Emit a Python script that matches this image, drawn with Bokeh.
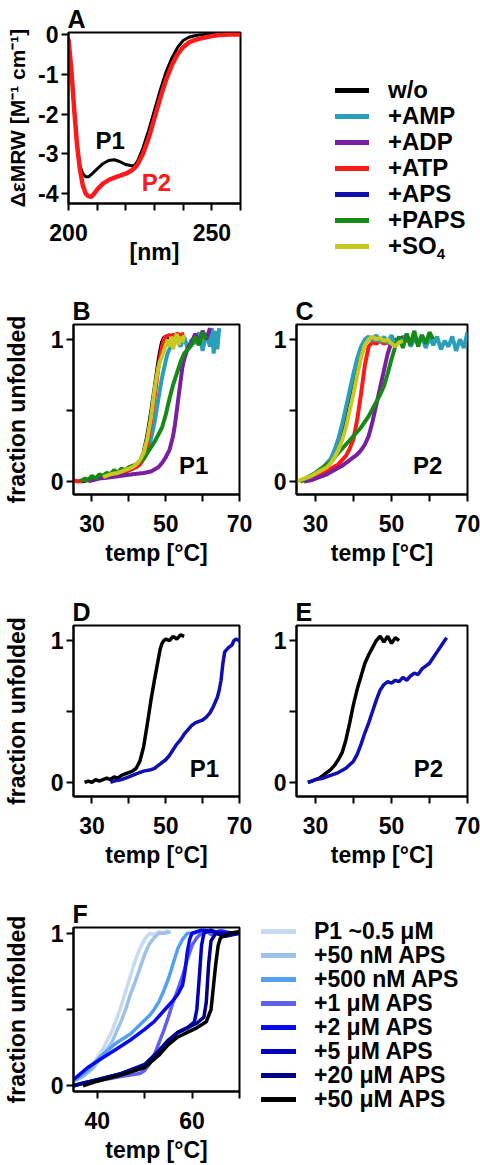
from bokeh.plotting import figure
from bokeh.layouts import column, row
from bokeh.models import Range1d, FixedTicker, Div
from bokeh.embed import file_html
from bokeh.resources import INLINE
from bokeh.core.properties import value

FONT = "Liberation Sans"

# ---------------- Panel A: CD spectra ----------------
A_nm = [200, 201, 202, 203, 204, 205, 206, 207, 208, 209, 210, 212, 214, 216, 218, 220, 222, 223, 224, 226, 228, 230, 232, 234, 236, 238, 240, 242, 244, 246, 248, 250, 253, 256, 260]
A_wo = [-0.1, -0.9, -1.9, -2.75, -3.3, -3.5, -3.58, -3.58, -3.52, -3.45, -3.38, -3.25, -3.17, -3.15, -3.2, -3.27, -3.3, -3.3, -3.2, -2.85, -2.4, -1.9, -1.4, -0.95, -0.6, -0.33, -0.15, -0.07, -0.03, -0.01, 0.0, 0.0, 0.0, 0.0, 0.0]
A_atp = [-0.12, -0.9, -1.9, -2.8, -3.4, -3.8, -4.0, -4.07, -4.08, -4.0, -3.9, -3.75, -3.66, -3.6, -3.55, -3.5, -3.42, -3.36, -3.28, -3.0, -2.6, -2.1, -1.6, -1.15, -0.78, -0.5, -0.32, -0.2, -0.14, -0.1, -0.07, -0.04, -0.01, 0.0, 0.0]
A_yticks = [-4, -3, -2, -1, 0]

# ---------------- Panel B: P1 melting ----------------
B_wo_T = [27, 29, 31, 33, 35, 37, 39, 41, 42, 43, 44, 45, 46, 46.5, 47, 47.5, 48, 48.5, 49, 49.5, 50, 51, 52, 53, 54]
B_wo_f = [0.0, 0.01, 0.02, 0.03, 0.04, 0.05, 0.07, 0.09, 0.11, 0.14, 0.2, 0.32, 0.48, 0.57, 0.66, 0.75, 0.84, 0.92, 0.98, 1.01, 1.02, 1.01, 1.03, 1.02, 1.03]
B_amp_T = [30, 35, 40, 43, 45, 46, 47, 47.5, 48, 48.5, 49, 49.5, 50, 50.5, 51, 52, 53, 54, 55, 56, 57, 58, 59, 60, 61, 62, 62.5, 63, 63.5, 64, 64.5]
B_amp_f = [0.02, 0.04, 0.08, 0.12, 0.2, 0.3, 0.42, 0.5, 0.58, 0.66, 0.73, 0.79, 0.85, 0.9, 0.93, 0.97, 1.0, 0.95, 1.02, 0.93, 1.0, 0.97, 1.05, 0.92, 1.04, 0.95, 1.08, 0.9, 1.06, 0.93, 1.08]
B_adp_T = [29, 32, 35, 38, 41, 44, 46, 48, 49, 50, 51, 52, 52.5, 53, 53.5, 54, 54.5, 55, 55.5, 56, 57, 58, 59, 60, 61, 62]
B_adp_f = [0.0, 0.02, 0.03, 0.04, 0.05, 0.06, 0.07, 0.1, 0.13, 0.17, 0.22, 0.32, 0.4, 0.5, 0.6, 0.7, 0.8, 0.86, 0.9, 0.94, 0.98, 1.04, 0.97, 1.06, 1.0, 1.08]
B_atp_T = [25, 26, 28, 30, 32, 34, 36, 38, 40, 42, 43, 44, 45, 46, 46.5, 47, 47.5, 48, 48.5, 49, 49.5, 50, 51, 52, 53, 54, 55]
B_atp_f = [0.01, 0.0, 0.01, 0.02, 0.03, 0.03, 0.05, 0.06, 0.08, 0.1, 0.12, 0.16, 0.26, 0.42, 0.51, 0.6, 0.7, 0.8, 0.88, 0.95, 1.0, 1.02, 1.03, 1.02, 1.04, 1.03, 1.04]
B_paps_T = [27, 28, 29, 30, 31, 32, 33, 34, 35, 36, 37, 38, 39, 40, 41, 42, 43, 44, 45, 46, 47, 48, 49, 50, 51, 52, 53, 54, 55, 56, 57, 58, 59, 60, 61]
B_paps_f = [0.0, 0.02, 0.01, 0.04, 0.02, 0.05, 0.04, 0.06, 0.05, 0.08, 0.06, 0.09, 0.08, 0.1, 0.11, 0.12, 0.14, 0.16, 0.2, 0.24, 0.28, 0.33, 0.38, 0.47, 0.58, 0.68, 0.76, 0.84, 0.9, 0.93, 0.96, 1.02, 0.96, 1.05, 1.0]
B_so4_T = [33, 35, 37, 39, 41, 42, 43, 44, 45, 46, 46.5, 47, 47.5, 48, 48.5, 49, 49.5, 50, 50.5, 51, 51.5, 52, 52.5, 53, 53.5, 54, 54.5, 55]
B_so4_f = [0.03, 0.05, 0.06, 0.08, 0.1, 0.12, 0.15, 0.2, 0.3, 0.45, 0.55, 0.65, 0.73, 0.8, 0.85, 0.88, 0.92, 0.96, 1.0, 0.95, 1.02, 0.93, 1.0, 1.04, 0.96, 1.02, 0.98, 1.03]

# ---------------- Panel C: P2 melting ----------------
C_wo_T = [27, 29, 31, 33, 35, 36, 37, 38, 39, 40, 41, 42, 43, 44, 45, 46, 47, 48, 49, 50]
C_wo_f = [0.0, 0.03, 0.06, 0.1, 0.17, 0.25, 0.35, 0.46, 0.58, 0.7, 0.82, 0.92, 0.98, 1.01, 1.0, 1.02, 0.99, 1.01, 0.98, 1.0]
C_amp_T = [26, 28, 30, 32, 34, 35, 36, 37, 38, 39, 40, 41, 42, 43, 44, 45, 46, 47, 48, 49, 50, 51, 52, 53, 54, 55, 56, 57, 58, 59, 60, 61, 62, 63, 64, 65, 66, 67, 68, 69, 70]
C_amp_f = [0.0, 0.03, 0.06, 0.1, 0.16, 0.22, 0.3, 0.4, 0.52, 0.64, 0.76, 0.87, 0.95, 1.0, 1.02, 0.99, 1.03, 0.98, 1.02, 0.97, 1.03, 0.96, 1.01, 0.98, 1.04, 0.95, 1.0, 0.97, 1.03, 0.94, 1.01, 0.96, 1.02, 0.93, 0.99, 0.95, 1.02, 0.92, 1.0, 0.94, 1.05]
C_adp_T = [27, 29, 31, 33, 35, 37, 39, 41, 42, 43, 44, 45, 46, 47, 48, 49, 50, 51, 52, 53, 54, 55]
C_adp_f = [0.0, 0.01, 0.03, 0.05, 0.08, 0.11, 0.15, 0.19, 0.22, 0.26, 0.32, 0.42, 0.54, 0.66, 0.78, 0.9, 0.98, 1.0, 0.98, 1.02, 0.99, 1.01]
C_atp_T = [26, 28, 30, 32, 34, 36, 38, 39, 40, 41, 42, 43, 44, 45, 46, 47, 48, 49, 50, 51]
C_atp_f = [0.0, 0.02, 0.04, 0.06, 0.09, 0.12, 0.18, 0.23, 0.3, 0.44, 0.62, 0.82, 0.95, 0.98, 0.97, 0.99, 0.97, 0.98, 0.96, 0.98]
C_paps_T = [26, 28, 30, 32, 34, 36, 38, 40, 42, 44, 46, 47, 48, 49, 50, 51, 52, 53, 54, 55, 56, 57, 58, 59, 60, 61]
C_paps_f = [0.0, 0.03, 0.06, 0.1, 0.14, 0.2, 0.26, 0.32, 0.38, 0.46, 0.56, 0.61, 0.67, 0.76, 0.86, 0.95, 1.02, 0.94, 1.04, 0.96, 1.06, 0.95, 1.03, 0.97, 1.05, 1.0]
C_so4_T = [25, 27, 29, 31, 33, 34, 35, 36, 37, 38, 39, 40, 41, 42, 43, 44, 45, 46, 47, 48, 49, 50, 51, 52, 53]
C_so4_f = [0.0, 0.02, 0.04, 0.07, 0.1, 0.13, 0.17, 0.22, 0.29, 0.38, 0.5, 0.62, 0.75, 0.87, 0.96, 1.0, 1.02, 1.0, 1.01, 0.99, 1.0, 0.97, 0.95, 0.98, 0.99]

# ---------------- Panels D/E: w/o vs +APS ----------------
D_wo_T = [28, 29, 30, 31, 32, 33, 34, 35, 36, 37, 38, 39, 40, 41, 42, 43, 44, 45, 46, 47, 48, 48.5, 49, 49.5, 50, 51, 52, 53, 54, 55]
D_wo_f = [0.0, 0.01, 0.0, 0.02, 0.01, 0.02, 0.03, 0.02, 0.04, 0.03, 0.05, 0.06, 0.07, 0.08, 0.1, 0.15, 0.25, 0.41, 0.58, 0.73, 0.87, 0.94, 0.98, 1.0, 1.01, 1.0, 1.03, 1.01, 1.04, 1.03]
D_aps_T = [35, 36, 38, 40, 42, 44, 46, 47, 48, 50, 51, 52, 53, 54, 55, 56, 57, 58, 59, 60, 61, 62, 63, 64, 64.5, 65, 65.5, 66, 67, 68, 68.5, 69, 70]
D_aps_f = [0.0, 0.01, 0.02, 0.04, 0.06, 0.08, 0.09, 0.1, 0.12, 0.16, 0.19, 0.23, 0.27, 0.3, 0.34, 0.37, 0.4, 0.42, 0.43, 0.44, 0.46, 0.49, 0.54, 0.6, 0.65, 0.72, 0.84, 0.92, 0.95, 0.97, 1.0, 1.01, 1.0]
E_wo_T = [28, 29, 30, 31, 32, 33, 34, 35, 36, 37, 38, 39, 40, 41, 42, 43, 44, 45, 46, 47, 48, 49, 50, 51, 52]
E_wo_f = [0.0, 0.01, 0.02, 0.03, 0.05, 0.07, 0.09, 0.12, 0.16, 0.21, 0.3, 0.42, 0.55, 0.66, 0.75, 0.84, 0.9, 0.95, 1.0, 1.03, 0.99, 1.03, 0.98, 1.02, 1.0]
E_aps_T = [28, 29, 30, 32, 34, 36, 38, 40, 41, 42, 43, 44, 45, 46, 47, 48, 49, 50, 51, 52, 53, 54, 55, 56, 57, 58, 59, 60, 61, 62, 63, 64, 64.5]
E_aps_f = [0.0, 0.01, 0.02, 0.03, 0.05, 0.07, 0.1, 0.15, 0.2, 0.27, 0.35, 0.42, 0.5, 0.58, 0.65, 0.69, 0.71, 0.7, 0.72, 0.71, 0.74, 0.72, 0.75, 0.77, 0.76, 0.8, 0.82, 0.84, 0.88, 0.92, 0.96, 1.0, 1.02]

# ---------------- Panel F: APS titration ----------------
F_p1_T = [35, 37, 39, 41, 43, 44, 45, 46, 47, 48, 49, 50, 51, 52, 53, 54, 55]
F_p1_f = [0.04, 0.08, 0.14, 0.23, 0.35, 0.43, 0.52, 0.62, 0.72, 0.82, 0.9, 0.96, 1.0, 0.99, 1.01, 1.0, 1.02]
F_50n_T = [35, 37, 39, 41, 43, 44, 45, 46, 47, 48, 49, 50, 51, 52, 53, 54, 55.5]
F_50n_f = [0.03, 0.06, 0.11, 0.19, 0.28, 0.35, 0.42, 0.5, 0.6, 0.68, 0.77, 0.86, 0.93, 0.97, 1.0, 1.0, 1.01]
F_500n_T = [35, 38, 41, 44, 47, 49, 51, 52, 53, 54, 55, 56, 57, 58, 59, 60, 62, 63]
F_500n_f = [0.03, 0.1, 0.2, 0.28, 0.34, 0.4, 0.46, 0.5, 0.55, 0.62, 0.7, 0.8, 0.9, 0.96, 1.0, 1.0, 1.01, 1.0]
F_1u_T = [35, 37, 39, 41, 43, 45, 47, 49, 50, 51, 52, 53, 54, 55, 56, 57, 58, 59, 60, 61, 62, 63, 64, 66, 68, 70]
F_1u_f = [0.0, 0.02, 0.03, 0.04, 0.05, 0.06, 0.07, 0.08, 0.1, 0.14, 0.2, 0.28, 0.36, 0.45, 0.55, 0.63, 0.72, 0.83, 0.92, 0.97, 1.0, 1.02, 0.99, 1.02, 1.0, 1.01]
F_2u_T = [35, 38, 41, 44, 47, 50, 52, 54, 56, 57, 58, 58.5, 59, 59.5, 60, 62, 65, 70]
F_2u_f = [0.04, 0.12, 0.18, 0.24, 0.3, 0.37, 0.42, 0.49, 0.56, 0.6, 0.66, 0.75, 0.88, 0.96, 1.0, 1.02, 1.01, 1.0]
F_5u_T = [35, 40, 45, 50, 53, 55, 57, 59, 60.5, 61, 61.5, 62, 62.5, 64, 66, 70]
F_5u_f = [0.0, 0.04, 0.08, 0.13, 0.22, 0.29, 0.35, 0.38, 0.42, 0.5, 0.7, 0.92, 1.0, 1.02, 0.99, 1.0]
F_20u_T = [35, 40, 45, 50, 53, 55, 57, 59, 61, 62.5, 63, 63.5, 64, 65, 67, 70]
F_20u_f = [0.0, 0.04, 0.08, 0.14, 0.23, 0.3, 0.35, 0.38, 0.41, 0.45, 0.55, 0.8, 0.95, 1.0, 0.98, 1.0]
F_50u_T = [37, 40, 45, 50, 53, 55, 57, 59, 61, 63, 64, 64.5, 65, 65.5, 66, 68, 70]
F_50u_f = [0.0, 0.03, 0.07, 0.12, 0.2, 0.27, 0.32, 0.35, 0.38, 0.42, 0.5, 0.65, 0.8, 0.92, 0.97, 1.0, 1.01]

# ---------------- legends ----------------
LIG_LABELS = ["w/o", "+AMP", "+ADP", "+ATP", "+APS", "+PAPS",
              '+SO<span style="font-size:15px;position:relative;top:5px;line-height:0;">4</span>']
LIG_COLORS = ["#000000", "#2a9fba", "#7a1fa0", "#ff1a1a", "#1010b0", "#158a15", "#c8c820"]
F_LABELS = ["P1 ~0.5 \u03bcM", "+50 nM APS", "+500 nM APS", "+1 \u03bcM APS", "+2 \u03bcM APS", "+5 \u03bcM APS", "+20 \u03bcM APS", "+50 \u03bcM APS"]
F_COLORS = ["#c6daf2", "#9cc2ea", "#55a0ee", "#6060ee", "#0808ee", "#0000c0", "#00008a", "#000000"]


def style_axis(ax):
    ax.axis_line_width = 2
    ax.axis_line_color = "black"
    ax.major_tick_line_width = 2
    ax.minor_tick_line_width = 2
    ax.major_tick_in = 0
    ax.major_tick_out = 7
    ax.minor_tick_in = 0
    ax.minor_tick_out = 7
    ax.major_label_text_font = FONT
    ax.major_label_text_font_style = "bold"
    ax.major_label_text_font_size = "23px"
    ax.major_label_text_color = "black"
    ax.axis_label_text_font = FONT
    ax.axis_label_text_font_style = "bold"
    ax.axis_label_text_font_size = "23px"
    ax.axis_label_text_color = "black"


def make_fig(width, height, xr, yr, mbl, mbr, mbt, mbb, letter):
    p = figure(width=width, height=height, x_range=Range1d(*xr), y_range=Range1d(*yr),
               output_backend="svg", toolbar_location=None,
               min_border_left=mbl, min_border_right=mbr, min_border_top=mbt, min_border_bottom=mbb)
    p.xgrid.visible = False
    p.ygrid.visible = False
    p.outline_line_color = "black"
    p.outline_line_width = 2
    p.outline_line_alpha = 1
    p.background_fill_color = "white"
    p.border_fill_color = "white"
    style_axis(p.xaxis[0])
    style_axis(p.yaxis[0])
    p.xaxis[0].major_label_standoff = 13
    p.yaxis[0].major_label_standoff = 3
    p.title.text = letter
    p.title.align = "left"
    p.title.text_font = FONT
    p.title.text_font_style = "bold"
    p.title.text_font_size = "25px"
    p.title.text_color = "black"
    p.title.standoff = 0
    p.title.offset = -1
    return p


def tag(p, x, y, txt, color="black"):
    p.text(x=[x], y=[y], text=[txt], text_font=value(FONT), text_font_style="bold",
           text_font_size="24px", text_align="center", text_baseline="middle", text_color=color)


def melt_axes(p, left=True):
    p.xaxis[0].ticker = FixedTicker(ticks=[30, 50, 70], minor_ticks=[40, 60])
    p.yaxis[0].ticker = FixedTicker(ticks=[0, 1], minor_ticks=[0.5])
    p.xaxis[0].axis_label = "temp [\u00b0C]"
    if left:
        p.yaxis[0].axis_label = "fraction unfolded"
        p.yaxis[0].axis_label_standoff = 18


def legend_div(labels, colors, width, height, pad_left, pad_top, glyph_w, gap, row_h, font_px):
    rows = []
    for lab, col in zip(labels, colors):
        rows.append(
            '<div style="display:flex;align-items:center;height:%dpx;white-space:nowrap;">'
            '<span style="display:inline-block;flex:none;width:%dpx;height:5px;background:%s;margin-right:%dpx;"></span>'
            '<span style="line-height:%dpx;">%s</span></div>' % (row_h, glyph_w, col, gap, row_h, lab))
    html = ('<div style="box-sizing:border-box;margin:0;padding:%dpx 0 0 %dpx;'
            'font-family:\'Liberation Sans\',Arial,sans-serif;font-weight:bold;font-size:%dpx;color:#000;">%s</div>'
            % (pad_top, pad_left, font_px, "".join(rows)))
    return Div(text=html, width=width, height=height, margin=0,
               styles={"margin": "0", "padding": "0", "overflow": "visible"})


# ---- Row 1: A + legend
pA = make_fig(268, 290, (200, 260), (-4.25, 0.05), 68, 28, 32, 87, "A")
pA.xaxis[0].ticker = FixedTicker(ticks=[200, 250], minor_ticks=[210, 220, 230, 240, 260])
pA.yaxis[0].ticker = FixedTicker(ticks=A_yticks)
pA.yaxis[0].major_label_overrides = {t: str(t) for t in A_yticks}
pA.xaxis[0].axis_label = "[nm]"
pA.xaxis[0].axis_label_standoff = -5
pA.yaxis[0].axis_label = "\u0394\u03b5MRW [M\u207b\u00b9 cm\u207b\u00b9]"
pA.yaxis[0].axis_label_text_font_size = "21px"
pA.yaxis[0].axis_label_standoff = 6
pA.line(A_nm, A_wo, line_color=LIG_COLORS[0], line_width=3)
pA.line(A_nm, A_atp, line_color=LIG_COLORS[3], line_width=4.5)
tag(pA, 214.5, -2.67, "P1")
tag(pA, 230.7, -3.72, "P2", color="#ff1a1a")

dA = legend_div(LIG_LABELS, LIG_COLORS, 212, 266, 67, 77, 34, 19, 26, 24)

# ---- Row 2: B, C
pB = make_fig(268, 300, (25, 70), (-0.092, 1.105), 68, 29, 34, 96, "B")
melt_axes(pB)
B_series = [(B_amp_T, B_amp_f, 1), (B_wo_T, B_wo_f, 0), (B_atp_T, B_atp_f, 3), (B_adp_T, B_adp_f, 2),
            (B_paps_T, B_paps_f, 5), (B_so4_T, B_so4_f, 6)]
for t, f, ci in B_series:
    pB.line(t, f, line_color=LIG_COLORS[ci], line_width=4)
tag(pB, 57.6, 0.11, "P1")

pC = make_fig(212, 300, (25, 70), (-0.092, 1.105), 28, 13, 34, 96, "C")
melt_axes(pC, left=False)
C_series = [(C_wo_T, C_wo_f, 0), (C_atp_T, C_atp_f, 3), (C_adp_T, C_adp_f, 2), (C_amp_T, C_amp_f, 1),
            (C_paps_T, C_paps_f, 5), (C_so4_T, C_so4_f, 6)]
for t, f, ci in C_series:
    pC.line(t, f, line_color=LIG_COLORS[ci], line_width=4)
tag(pC, 59.5, 0.11, "P2")

# ---- Row 3: D, E
pD = make_fig(268, 305, (25, 70), (-0.099, 1.106), 68, 29, 35, 99, "D")
melt_axes(pD)
pD.line(D_wo_T, D_wo_f, line_color=LIG_COLORS[0], line_width=3.5)
pD.line(D_aps_T, D_aps_f, line_color=LIG_COLORS[4], line_width=3.5)
tag(pD, 60.5, 0.1, "P1")

pE = make_fig(212, 305, (25, 70), (-0.099, 1.106), 28, 13, 35, 99, "E")
melt_axes(pE, left=False)
pE.line(E_wo_T, E_wo_f, line_color=LIG_COLORS[0], line_width=3.5)
pE.line(E_aps_T, E_aps_f, line_color=LIG_COLORS[4], line_width=3.5)
tag(pE, 59.7, 0.1, "P2")

# ---- Row 4: F + legend
pF = make_fig(253, 270, (35, 70), (-0.0375, 1.0375), 68, 14, 32, 66, "F")
pF.xaxis[0].ticker = FixedTicker(ticks=[40, 60], minor_ticks=[50, 70])
pF.yaxis[0].ticker = FixedTicker(ticks=[0, 1], minor_ticks=[0.5])
pF.xaxis[0].axis_label = "temp [\u00b0C]"
pF.yaxis[0].axis_label = "fraction unfolded"
pF.yaxis[0].axis_label_standoff = 18
F_series = [(F_p1_T, F_p1_f), (F_50n_T, F_50n_f), (F_500n_T, F_500n_f), (F_1u_T, F_1u_f),
            (F_2u_T, F_2u_f), (F_5u_T, F_5u_f), (F_20u_T, F_20u_f), (F_50u_T, F_50u_f)]
for (t, f), col in zip(F_series, F_COLORS):
    pF.line(t, f, line_color=col, line_width=3.5)

dF = legend_div(F_LABELS, F_COLORS, 227, 222, 8, 24, 35, 18, 24, 23)

layout = column(row(pA, dA), row(pB, pC), row(pD, pE), row(pF, dF))
open("out.html", "w").write(file_html(layout, INLINE))
